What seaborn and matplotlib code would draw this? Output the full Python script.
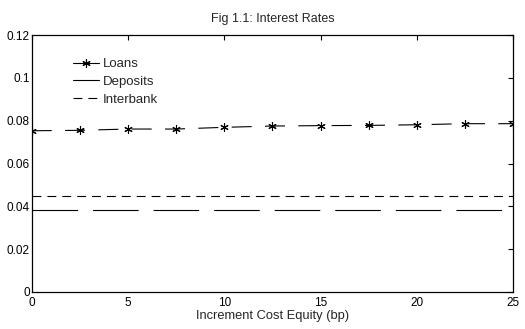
import matplotlib
matplotlib.use("Agg")
import matplotlib.pyplot as plt
from matplotlib.lines import Line2D
import seaborn as sns
import pandas as pd

# --- data ---
cost_equity_bp = [0, 2.5, 5, 7.5, 10, 12.5, 15, 17.5, 20, 22.5, 25]
loans = [0.0753, 0.0755, 0.0761, 0.0761, 0.0769, 0.0775, 0.0777, 0.0778, 0.0781, 0.0786, 0.0786]
deposits = [0.0384] * len(cost_equity_bp)
interbank = [0.0450] * len(cost_equity_bp)

x_ticks = [0, 5, 10, 15, 20, 25]
y_ticks = [0, 0.02, 0.04, 0.06, 0.08, 0.1, 0.12]
y_tick_labels = ["0", "0.02", "0.04", "0.06", "0.08", "0.1", "0.12"]

df = pd.DataFrame({"bp": cost_equity_bp, "Loans": loans,
                   "Deposits": deposits, "Interbank": interbank})

sns.set_style("white")
plt.rcParams["font.family"] = ["Liberation Sans", "DejaVu Sans"]

fig = plt.figure(figsize=(5.25, 3.29), dpi=100)
ax = fig.add_axes([0.0604, 0.1125, 0.9168, 0.781])

STAR = (6, 2, 0)

# === lines ===
sns.lineplot(data=df, x="bp", y="Loans", ax=ax, color="black", lw=0.8,
             marker=STAR, markersize=6, markeredgewidth=0.8,
             markeredgecolor="black", legend=False)
ax.lines[-1].set_dashes([18, 12])
sns.lineplot(data=df, x="bp", y="Deposits", ax=ax, color="black", lw=0.8,
             legend=False)
ax.lines[-1].set_dashes([41, 13.5])
sns.lineplot(data=df, x="bp", y="Interbank", ax=ax, color="black", lw=0.8,
             legend=False)
ax.lines[-1].set_dashes([8, 5.4])

# legend: loans & deposits shown solid as in the original
handles = [
    Line2D([], [], color="black", lw=0.8, marker=STAR, markersize=6,
           markeredgewidth=0.8, markeredgecolor="black"),
    Line2D([], [], color="black", lw=0.8),
    Line2D([], [], color="black", lw=0.8, dashes=[8, 5.4]),
]
ax.legend(handles, ["Loans", "Deposits", "Interbank"], loc="center left",
          bbox_to_anchor=(0.085, 0.818), frameon=False, fontsize=9.5,
          handlelength=2.0, handletextpad=0.3, labelspacing=0.42,
          borderpad=0, borderaxespad=0)

# === axes styling (MATLAB-like box) ===
ax.set_xlim(0, 25)
ax.set_ylim(0, 0.12)
ax.set_xticks(x_ticks)
ax.set_xticklabels([str(t) for t in x_ticks])
ax.set_yticks(y_ticks)
ax.set_yticklabels(y_tick_labels)
ax.tick_params(direction="in", top=True, right=True, length=3.5, width=0.8,
               labelsize=8.5, colors="black")
ax.tick_params(axis="x", pad=3.5)
ax.tick_params(axis="y", pad=1.5)
for s in ax.spines.values():
    s.set_visible(True)
    s.set_color("black")
    s.set_linewidth(0.9)

ax.set_title("Fig 1.1: Interest Rates", fontsize=9, pad=9.5)
ax.set_xlabel("Increment Cost Equity (bp)", fontsize=9.3, labelpad=0.5)
ax.set_ylabel("")

fig.savefig("out.png", dpi=100, facecolor="white")
plt.close()
